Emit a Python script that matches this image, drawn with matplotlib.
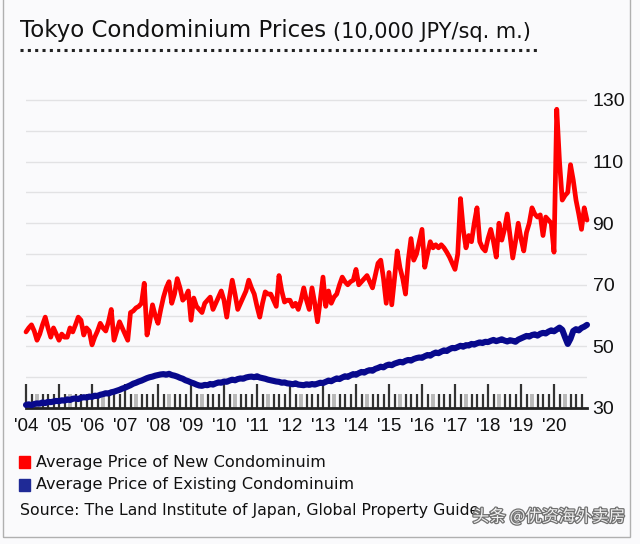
import numpy as np
import matplotlib
matplotlib.use("Agg")
import matplotlib.pyplot as plt
import matplotlib.patheffects as pe
from matplotlib.patches import Rectangle
from matplotlib.lines import Line2D

# monthly values, Jan 2004 .. Jan 2021 (10,000 JPY / sq. m.)
start_year = 2004
new_price = [
    54.7, 56, 57, 55, 52, 54, 57, 59.5, 56, 53, 56, 54,          # 2004
    52, 54, 53, 53, 56, 54.7, 57, 59.5, 58.5, 53.7, 56, 55,      # 2005
    50.5, 53, 55, 57.5, 56, 55, 58, 62, 52, 55, 58, 56,          # 2006
    54, 52, 61, 61.5, 62.5, 63, 64, 70.5, 53.7, 58, 63.5, 60,    # 2007
    57.5, 62, 66, 69, 71, 64, 67, 72, 69, 65, 66, 68,            # 2008
    58.5, 65.7, 63, 62, 61, 64, 65, 66, 62, 64, 66, 68,          # 2009
    65, 59.5, 66, 71.5, 67, 62, 64, 66, 68, 71.5, 69, 67,        # 2010
    63, 59.5, 64, 67.7, 67, 67, 65, 63, 73, 68, 64.4, 65,        # 2011
    65, 63, 64, 62, 65, 69, 65, 62, 69, 64, 58, 65,              # 2012
    72.5, 63, 68, 64, 66, 67, 70, 72.5, 71, 70, 71, 71.5,        # 2013
    75, 70, 71, 72, 73, 71, 69, 73, 77, 78, 72, 64,              # 2014
    74, 63.5, 72, 81, 75.5, 72, 67, 78, 85, 78, 80, 84,          # 2015
    88, 75.7, 80, 84, 82, 83, 82, 83, 82, 80.6, 79, 77,          # 2016
    75, 80, 98, 88, 82, 86, 84, 90, 95, 84, 82, 81,              # 2017
    85, 88, 84, 79, 90, 84.5, 88, 93, 86, 78.7, 84, 90,          # 2018
    85, 81, 87, 90, 95, 93, 92, 92.7, 86, 92, 91, 90,            # 2019
    80.6, 127, 110, 97.5, 99, 100, 109, 104, 97.5, 93, 88, 95,   # 2020
    91,                                                          # 2021
]
existing_price = [
    31, 31.2, 30.9, 31.3, 31.5, 31.4, 31.8, 31.6, 32, 31.9, 32.1, 32.3,
    32.2, 32.5, 32.4, 32.8, 32.6, 33, 33.1, 32.9, 33.3, 33.5, 33.4, 33.7,
    33.6, 34, 33.9, 34.3, 34.5, 34.8, 34.7, 35.1, 35.3, 35.6, 35.9, 36.3,
    36.6, 37, 37.4, 37.9, 38.2, 38.6, 38.9, 39.3, 39.7, 40, 40.2, 40.5,
    40.7, 40.9, 41, 40.8, 41.1, 40.7, 40.5, 40.2, 39.8, 39.5, 39, 38.7,
    38.3, 38, 37.6, 37.3, 37.2, 37.5, 37.4, 37.8, 37.6, 38, 38.3, 38.2,
    38.6, 38.5, 38.9, 39.2, 39, 39.4, 39.6, 39.5, 39.9, 40.1, 40.2, 40,
    40.3, 39.9, 39.7, 39.5, 39.2, 39, 38.8, 38.6, 38.5, 38.2, 38.3, 38,
    37.9, 37.7, 38, 37.6, 37.5, 37.4, 37.7, 37.5, 37.8, 37.6, 37.9, 38.2,
    38.1, 38.5, 38.9, 38.7, 39.2, 39.6, 39.4, 39.9, 40.3, 40.1, 40.6, 41,
    40.8, 41.3, 41.7, 41.5, 42, 42.3, 42.1, 42.7, 43, 43.4, 43.2, 43.8,
    44.1, 43.9, 44.4, 44.7, 45, 44.8, 45.3, 45.6, 45.4, 45.9, 46.2, 46.4,
    46.3, 46.8, 47.2, 47, 47.6, 48, 47.8, 48.3, 48.7, 48.5, 49.1, 49.5,
    49.4, 49.8, 50.2, 49.9, 50.4, 50.3, 50.8, 50.6, 51, 51.3, 51.1, 51.5,
    51.4, 51.8, 52.1, 51.7, 52, 52.3, 51.9, 51.6, 52, 51.8, 51.5, 52.2,
    52.6, 53, 53.4, 53.2, 53.7, 53.9, 53.5, 54.1, 54.4, 54.2, 54.8, 55.2,
    54.9, 55.5, 56.1, 55.4, 53, 50.8, 52.5, 55, 55.6, 55.2, 56, 56.4,
    57,
]
year_labels = ["'04", "'05", "'06", "'07", "'08", "'09", "'10", "'11", "'12",
               "'13", "'14", "'15", "'16", "'17", "'18", "'19", "'20"]
y_ticks = [30, 50, 70, 90, 110, 130]

axis_font = "Liberation Sans"

W, H = 640, 544
fig = plt.figure(figsize=(6.4, 5.44), dpi=100)
fig.patch.set_facecolor("#fafafc")

def fx(px):
    return px / W

def fy(py):
    return 1 - py / H

# plot area
ax = fig.add_axes([fx(26), fy(408), fx(587 - 26), (408 - 84.6) / H])
ax.set_facecolor("#fafafc")

x = start_year + np.arange(len(new_price)) / 12
ax.plot(x, existing_price, color="#08098c", lw=4.4, solid_capstyle="round", clip_on=False, zorder=3)
ax.plot(x, new_price, color="#ff0000", lw=3.4, solid_capstyle="round", clip_on=False, zorder=4)

ax.set_xlim(2004, 2021)
ax.set_ylim(30, 135)

# y axis on the right, grid every 10
ax.yaxis.tick_right()
ax.set_yticks(y_ticks)
ax.set_yticklabels([str(v) for v in y_ticks], fontsize=14, family=axis_font, color="#111")
ax.set_yticks(np.arange(40, 131, 20), minor=True)
ax.grid(axis="y", which="both", color="#e2e2e4", lw=1)
ax.tick_params(axis="y", which="both", length=0, pad=4)

# x ticks: tall at each year, short every 2 months, grey one 4 months in
years = np.arange(2004, 2021)
ax.set_xticks(years)
ax.set_xticklabels(year_labels, fontsize=13.5, family=axis_font, color="#111")
minor = [y + m / 12 for y in range(2004, 2021) for m in (2, 6, 8, 10)]
ax.set_xticks(minor, minor=True)
ax.tick_params(axis="x", which="major", direction="in", length=17, width=1.6,
               color="#333", pad=7)
ax.tick_params(axis="x", which="minor", direction="in", length=10, width=1.6, color="#333")
grey = [y + 4 / 12 for y in range(2004, 2021)]
ax.vlines(grey, 0, 0.042, transform=ax.get_xaxis_transform(), color="#b8b8b8", lw=2.8)

for s in ["top", "left", "right"]:
    ax.spines[s].set_visible(False)
ax.spines["bottom"].set_color("#222")
ax.spines["bottom"].set_linewidth(2)

# title
t1 = fig.text(fx(20), fy(31), "Tokyo Condominium Prices", fontsize=16.5, color="#111", va="center")
fig.canvas.draw()
bb = t1.get_window_extent()
fig.text(bb.x1 / W + fx(7), fy(32), "(10,000 JPY/sq. m.)", fontsize=15, color="#111", va="center")
fig.add_artist(Line2D([fx(20), fx(537)], [fy(50), fy(50)], transform=fig.transFigure,
                      color="#222", lw=2.2, linestyle=(0, (1, 1.4))))

# legend and source
fig.add_artist(Rectangle((fx(19), fy(468)), fx(11), 12 / H, transform=fig.transFigure,
                         color="#ff0000"))
fig.text(fx(36), fy(462), "Average Price of New Condominuim", fontsize=11.6, color="#111", va="center")
fig.add_artist(Rectangle((fx(19), fy(491)), fx(11), 12 / H, transform=fig.transFigure,
                         color="#1f2a96"))
fig.text(fx(36), fy(485), "Average Price of Existing Condominuim", fontsize=11.6, color="#111", va="center")
fig.text(fx(20), fy(510), "Source: The Land Institute of Japan, Global Property Guide",
         fontsize=11.3, color="#111", va="center")

# watermark
fig.text(fx(625), fy(517), "头条 @优资海外卖房", fontsize=12, ha="right", va="center",
         family=["Noto Sans CJK SC", "DejaVu Sans"], color="#f2f2f2",
         path_effects=[pe.withStroke(linewidth=1.8, foreground="#707070")])

# outer frame
fig.add_artist(Rectangle((fx(3), fy(537)), fx(627), 537 / H + 0.01, transform=fig.transFigure,
                         fill=False, edgecolor="#b0b0b0", lw=1))

fig.savefig("out.png", dpi=100, facecolor=fig.get_facecolor())
